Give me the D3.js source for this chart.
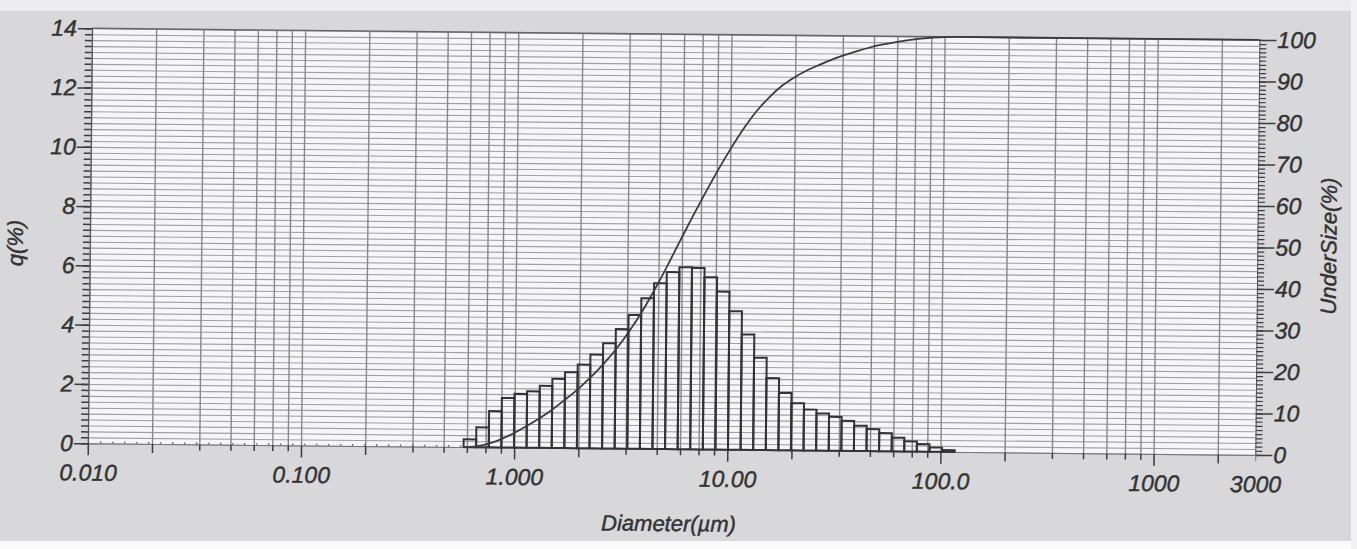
<!DOCTYPE html>
<html>
<head>
<meta charset="utf-8">
<script src="https://cdn.jsdelivr.net/npm/d3@7"></script>
<style>
  body { margin: 0; background: #d9d9dc; }
  svg text { font-family: "Liberation Sans", Arial, sans-serif; font-style: italic; fill: #333;
    stroke: #333; stroke-width: 0.45px; }
</style>
</head>
<body>
<svg id="chart" width="1357" height="549"></svg>
<script>
// lower/upper edges of the size classes (um)
const binEdges = [0.579, 0.663, 0.760, 0.871, 0.998, 1.143, 1.310, 1.500, 1.719, 1.969,
  2.256, 2.585, 2.961, 3.393, 3.887, 4.454, 5.102, 5.846, 6.697, 7.673,
  8.791, 10.07, 11.54, 13.22, 15.15, 17.36, 19.88, 22.78, 26.10, 29.90,
  34.26, 39.25, 44.97, 51.52, 59.02, 67.62, 77.47, 88.76, 101.7, 116.5]
// q(%) per class
const qValues = [0.26, 0.67, 1.22, 1.67, 1.81, 1.90, 2.09, 2.33, 2.56, 2.82,
  3.16, 3.55, 4.03, 4.51, 5.08, 5.59, 5.97, 6.14, 6.12, 5.81,
  5.33, 4.67, 3.89, 3.11, 2.43, 1.93, 1.59, 1.38, 1.25, 1.14,
  1.01, 0.85, 0.74, 0.61, 0.46, 0.34, 0.25, 0.14, 0.06]
// undersize (%) at each class edge, then flat to the end of the axis
const underSize = [0, 0.2, 0.9, 2.0, 3.5, 5.2, 7.1, 9.2, 11.6, 14.1,
  17.0, 20.2, 23.8, 28.0, 32.7, 38.1, 43.9, 50.0, 56.0, 61.8,
  67.4, 72.6, 77.4, 81.6, 85.0, 87.8, 89.9, 91.6, 93.0, 94.3,
  95.4, 96.4, 97.3, 98.0, 98.6, 99.1, 99.5, 99.8, 99.95, 100]
const curveEnd = [3000, 100]

const xTickValues = [0.01, 0.1, 1, 10, 100, 1000, 3000]
const xTickLabels = ['0.010', '0.100', '1.000', '10.00', '100.0', '1000', '3000']
const gridMultipliers = [1, 2, 3.333, 4.667, 6, 7.333, 8.667]
const decades = [0.01, 0.1, 1, 10, 100, 1000]
const leftMajor = [0, 2, 4, 6, 8, 10, 12, 14]
const rightMajor = [0, 10, 20, 30, 40, 50, 60, 70, 80, 90, 100]

const plotLeft = 92, plotTop = 28.3
const plotW = 1167.5, plotH = 415
const tilt = 0.57

const svg = d3.select('#chart')

// scanned paper look
svg.append('rect').attr('width', 1357).attr('height', 549).attr('fill', '#d8d8db')
svg.append('rect').attr('width', 1357).attr('height', 11).attr('fill', '#ececee')
svg.append('rect').attr('y', 541).attr('width', 1357).attr('height', 8).attr('fill', '#fafafa')
svg.append('rect').attr('x', 1351).attr('width', 6).attr('height', 549).attr('fill', '#f2f2f2')

const g = svg.append('g')
  .attr('transform', 'translate(' + plotLeft + ',' + plotTop + ') rotate(' + tilt + ')')

const x = d3.scaleLog().domain([0.01, 3000]).range([0, plotW])
const yL = d3.scaleLinear().domain([0, 14]).range([plotH, 0])
const yR = d3.scaleLinear().domain([0, 100]).range([plotH, 0])

g.append('rect').attr('width', plotW).attr('height', plotH).attr('fill', '#f6f6f8')

// grid
let gridX = []
decades.forEach(function(d) {
  gridMultipliers.forEach(function(m) { if (d * m < 3000) gridX.push(d * m) })
})
let minorL = d3.range(0, 71).map(function(i) { return i * 0.2 })
let minorR = d3.range(0, 101)

g.append('g')
  .attr('class', 'hgrid')
  .call(d3.axisLeft(yL).tickValues(minorL).tickSize(-plotW).tickFormat(''))
  .call(function(s) { s.select('.domain').remove() })
  .selectAll('line').attr('stroke', '#a09ea6').attr('stroke-width', 1.1)

g.append('g')
  .attr('class', 'vgrid')
  .attr('transform', 'translate(0,' + plotH + ')')
  .call(d3.axisBottom(x).tickValues(gridX).tickSize(-plotH).tickFormat(''))
  .call(function(s) { s.select('.domain').remove() })
  .selectAll('line').attr('stroke', '#88888c').attr('stroke-width', 1.4)

// top border
g.append('line').attr('x1', 0).attr('x2', plotW).attr('y1', 0).attr('y2', 0)
  .attr('stroke', '#666').attr('stroke-width', 1.4)

// left axis
g.append('g')
  .call(d3.axisLeft(yL).tickValues(minorL).tickSize(7).tickFormat(''))
  .call(function(s) { s.select('.domain').attr('stroke', '#555') })
  .selectAll('line').attr('stroke', '#3c3c3c').attr('stroke-width', 1.5)
let la = g.append('g')
  .call(d3.axisLeft(yL).tickValues(leftMajor).tickSize(14).tickPadding(1))
la.select('.domain').remove()
la.selectAll('line').attr('stroke', '#3c3c3c').attr('stroke-width', 1.5)
la.selectAll('text').attr('font-size', 23).attr('fill', '#333')

// right axis
g.append('g')
  .attr('transform', 'translate(' + plotW + ',0)')
  .call(d3.axisRight(yR).tickValues(minorR).tickSize(7).tickFormat(''))
  .call(function(s) { s.select('.domain').attr('stroke', '#555') })
  .selectAll('line').attr('stroke', '#3c3c3c').attr('stroke-width', 1.2)
let ra = g.append('g')
  .attr('transform', 'translate(' + plotW + ',0)')
  .call(d3.axisRight(yR).tickValues(rightMajor).tickSize(17).tickPadding(1))
ra.select('.domain').remove()
ra.selectAll('line').attr('stroke', '#3c3c3c').attr('stroke-width', 1.5)
ra.selectAll('text').attr('font-size', 23).attr('fill', '#333')

// bottom axis
let bx = g.append('g')
  .attr('transform', 'translate(0,' + plotH + ')')
  .call(d3.axisBottom(x).tickValues(gridX).tickSizeOuter(0)
    .tickSize(6).tickFormat(''))
bx.select('.domain').attr('stroke', '#777')
bx.selectAll('.tick line')
  .attr('stroke', '#3c3c3c').attr('stroke-width', 1.5)
  .attr('y2', function(d) {
    let m = d / Math.pow(10, Math.floor(Math.log10(d) + 1e-9))
    return Math.abs(m - 1) < 0.01 ? 12 : (Math.abs(m - 2) < 0.01 ? 9 : 6)
  })
let bl = g.append('g')
  .attr('transform', 'translate(0,' + plotH + ')')
  .call(d3.axisBottom(x).tickValues(xTickValues).tickSize(0).tickPadding(21)
    .tickFormat(function(d, i) { return xTickLabels[i] }))
bl.select('.domain').remove()
bl.selectAll('text').attr('font-size', 23).attr('fill', '#333')

// dotted zero line left of the distribution
g.append('line')
  .attr('x1', x(0.01)).attr('x2', x(binEdges[0]))
  .attr('y1', yL(0) - 1).attr('y2', yL(0) - 1)
  .attr('stroke', '#666').attr('stroke-width', 1.6)
  .attr('stroke-dasharray', '1.5,10.5')

// histogram
g.append('g').selectAll('rect')
  .data(qValues)
  .join('rect')
  .attr('x', function(d, i) { return x(binEdges[i]) })
  .attr('width', function(d, i) { return x(binEdges[i + 1]) - x(binEdges[i]) })
  .attr('y', function(d) { return yL(d) })
  .attr('height', function(d) { return yL(0) - yL(d) })
  .attr('fill', 'none')
  .attr('stroke', '#333')
  .attr('stroke-width', 2)

// undersize curve
let curvePts = binEdges.map(function(e, i) { return [e, underSize[i]] })
curvePts.push(curveEnd)
g.append('path')
  .datum(curvePts)
  .attr('fill', 'none')
  .attr('stroke', '#3c3c3c')
  .attr('stroke-width', 1.8)
  .attr('d', d3.line()
    .x(function(d) { return x(d[0]) })
    .y(function(d) { return yR(d[1]) })
    .curve(d3.curveMonotoneX))

// axis titles
g.append('text')
  .attr('transform', 'translate(-67,' + (plotH / 2 + 8) + ') rotate(-90)')
  .attr('text-anchor', 'middle').attr('font-size', 22)
  .text('q(%)')
g.append('text')
  .attr('transform', 'translate(' + (plotW + 79) + ',' + (plotH / 2 - 2) + ') rotate(-90)')
  .attr('text-anchor', 'middle').attr('font-size', 22)
  .text('UnderSize(%)')
g.append('text')
  .attr('x', x(10) - 58).attr('y', plotH + 82)
  .attr('text-anchor', 'middle').attr('font-size', 22)
  .text('Diameter(µm)')
</script>
</body>
</html>
